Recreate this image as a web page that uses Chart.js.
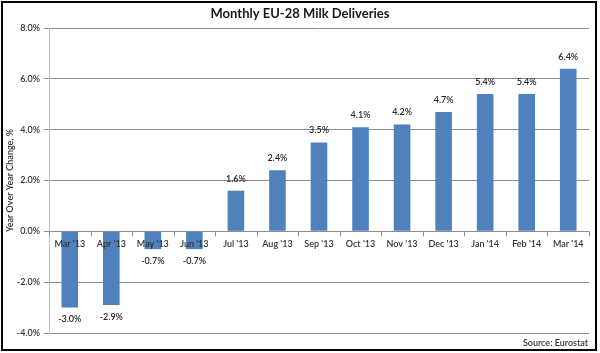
<!DOCTYPE html>
<html>
<head>
<meta charset="utf-8">
<script src="https://cdn.jsdelivr.net/npm/chart.js@4/dist/chart.umd.min.js"></script>
<style>
  html, body { margin: 0; padding: 0; background: #fff; }
  #wrap { width: 600px; height: 353px; position: relative; }
</style>
</head>
<body>
<div id="wrap"><canvas id="milkChart" width="600" height="353"></canvas></div>
<script>
// Monthly EU-28 milk deliveries, YoY change
const months = ["Mar '13", "Apr '13", "May '13", "Jun '13", "Jul '13", "Aug '13", "Sep '13",
                "Oct '13", "Nov '13", "Dec '13", "Jan '14", "Feb '14", "Mar '14"];
const yoyChange = [-3.0, -2.9, -0.7, -0.7, 1.6, 2.4, 3.5, 4.1, 4.2, 4.7, 5.4, 5.4, 6.4];
const yTicks = [-4, -2, 0, 2, 4, 6, 8];

const FONT = 'Lato, "Open Sans", sans-serif';

// white background, frame, title and source note
const framePlugin = {
    id: 'frame',
    beforeDraw(chart) {
        const ctx = chart.ctx;
        ctx.save();
        ctx.fillStyle = '#fff';
        ctx.fillRect(0, 0, chart.width, chart.height);
        ctx.restore();
    },
    afterDraw(chart) {
        const ctx = chart.ctx;
        ctx.save();
        ctx.strokeStyle = '#000';
        ctx.lineWidth = 2;
        ctx.strokeRect(2, 2, 594, 348);

        ctx.fillStyle = '#1a1a1a';
        ctx.font = 'bold 13px ' + FONT;
        ctx.textAlign = 'center';
        ctx.textBaseline = 'middle';
        ctx.fillText('Monthly EU-28 Milk Deliveries', 300, 14);

        ctx.font = '600 9px ' + FONT;
        ctx.textAlign = 'right';
        ctx.fillStyle = '#333';
        ctx.fillText('Source: Eurostat', 588, 343);
        ctx.restore();
    }
};

// category labels and ticks sit on the zero line, value labels at bar ends
const labelsPlugin = {
    id: 'zeroAxisLabels',
    afterDatasetsDraw(chart) {
        const ctx = chart.ctx;
        const x = chart.scales.x;
        const y = chart.scales.y;
        const zeroY = y.getPixelForValue(0);
        const area = chart.chartArea;
        ctx.save();

        // tick marks between categories
        ctx.strokeStyle = '#8c8c8c';
        ctx.lineWidth = 1;
        ctx.beginPath();
        for (let i = 0; i <= months.length; i++) {
            let px;
            if (i === 0) px = area.left;
            else if (i === months.length) px = area.right;
            else px = (x.getPixelForValue(i - 1) + x.getPixelForValue(i)) / 2;
            px = Math.round(px) + 0.5;
            ctx.moveTo(px, zeroY);
            ctx.lineTo(px, zeroY + 5);
        }
        ctx.stroke();

        ctx.textAlign = 'center';
        ctx.textBaseline = 'middle';
        ctx.fillStyle = '#333';
        ctx.font = '600 9px ' + FONT;
        months.forEach((m, i) => {
            ctx.fillText(m, x.getPixelForValue(i), zeroY + 13);
        });

        // data labels
        const meta = chart.getDatasetMeta(0);
        ctx.font = '600 9px ' + FONT;
        ctx.fillStyle = '#262626';
        meta.data.forEach((bar, i) => {
            const v = yoyChange[i];
            const ly = v >= 0 ? bar.y - 12 : bar.y + 12;
            ctx.fillText(v.toFixed(1) + '%', bar.x, ly);
        });
        ctx.restore();
    }
};

const ctx = document.getElementById('milkChart').getContext('2d');
const milkChart = new Chart(ctx, {
    type: 'bar',
    data: {
        labels: months,
        datasets: [{
            label: 'YoY Change',
            data: yoyChange,
            backgroundColor: '#4f81bd',
            borderWidth: 0,
            barPercentage: 0.4,
            categoryPercentage: 1.0
        }]
    },
    options: {
        responsive: false,
        animation: false,
        layout: { padding: { top: 28, right: 11, bottom: 20, left: 0 } },
        plugins: {
            legend: { display: false },
            tooltip: { enabled: false }
        },
        scales: {
            x: {
                display: false,
                offset: true
            },
            y: {
                min: yTicks[0],
                max: yTicks[yTicks.length - 1],
                afterBuildTicks(scale) {
                    scale.ticks = yTicks.map(v => ({ value: v }));
                },
                afterFit(scale) {
                    scale.width = 49;
                },
                border: { color: '#bfbfbf', width: 1 },
                grid: {
                    color: '#8c8c8c',
                    tickLength: 5,
                    drawTicks: true
                },
                ticks: {
                    padding: 4,
                    color: '#333',
                    font: { family: FONT, size: 9, weight: '600' },
                    callback: v => v.toFixed(1) + '%'
                },
                title: {
                    display: true,
                    text: 'Year Over Year Change, %',
                    color: '#333',
                    padding: { top: 5, bottom: 0 },
                    font: { family: FONT, size: 9, weight: '600' }
                }
            }
        }
    },
    plugins: [framePlugin, labelsPlugin]
});
</script>
</body>
</html>
